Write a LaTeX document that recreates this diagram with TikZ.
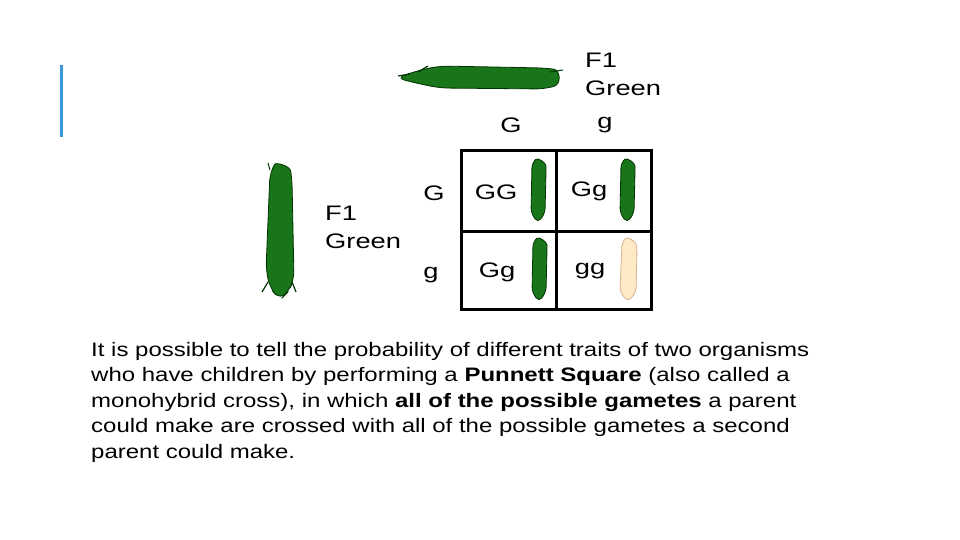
\documentclass[tikz,border=0pt]{standalone}
\usepackage{fontspec}
\setmainfont{Liberation Sans}
\newcommand{\wide}[1]{\scalebox{1.3}[1]{#1}}
\begin{document}
\begin{tikzpicture}[x=1pt,y=-1pt,
  lbl/.style={font=\fontsize{21}{24}\selectfont,inner sep=0pt},
  pod/.style={fill=green!40!black!90,draw=green!20!black,line width=0.8pt,rounded corners=6pt},
  ypod/.style={fill=yellow!25!orange!20,draw=brown!60,line width=0.8pt,rounded corners=6pt},
  grid/.style={line width=3pt}]
\useasboundingbox (0,0) rectangle (960,540);
\fill[white] (0,0) rectangle (960,540);
\fill[cyan!70!blue!80] (59.5,65) rectangle (62.5,137);
% top pod
\draw[pod,rounded corners=9pt] (420,70) -- (440,66) -- (545,68) .. controls (560,70) and (562,84) .. (545,89) -- (440,88) -- (420,84) -- (396,78) -- cycle;
\draw[green!20!black,line width=1.2pt] (418,72) -- (428,66);
\draw[green!20!black,line width=1.2pt] (410,74) -- (398,76);
\draw[green!20!black,line width=1pt] (550,72) -- (563,70);
% left pod
\draw[pod,rounded corners=9pt] (270,172) .. controls (276,162) and (290,166) .. (292,180) -- (294,280) -- (288,292) -- (280,300) -- (270,288) -- (266,270) -- cycle;
\draw[green!20!black,line width=1pt] (270,170) -- (268,163);
\draw[green!20!black,line width=1.2pt] (268,282) -- (262,292);
\draw[green!20!black,line width=1.2pt] (292,282) -- (296,292);
% small pods
\foreach \x/\y/\s in {538/157/pod,627/157/pod,539/236/pod}{
  \draw[\s,rounded corners=5pt] (\x-6,\y+6) .. controls (\x,\y) and (\x+8,\y+6) .. (\x+8,\y+14) -- (\x+7,\y+56) -- (\x,\y+66) -- (\x-7,\y+56) -- cycle;}
\draw[ypod,rounded corners=5pt] (622,242) .. controls (628,236) and (636,242) .. (637,250) -- (636,292) -- (628,302) -- (620,292) -- cycle;
% square
\node[draw,grid,minimum width=190,minimum height=158,inner sep=0pt] (sq) at (556,230) {};
\draw[grid] (556,151) -- (556,309);
\draw[grid] (461,231) -- (651,231);
% labels
\node[lbl,anchor=west] (f1a) at (585,60) {\wide{F1}};
\node[lbl,anchor=west] (gra) at (585,88) {\wide{Green}};
\node[lbl,anchor=west] (f1b) at (325,213) {\wide{F1}};
\node[lbl,anchor=west] (grb) at (325,241) {\wide{Green}};
\node[lbl] (cG) at (511,125) {\wide{G}};
\node[lbl] (cg) at (605,125) {\wide{g}};
\node[lbl] (rG) at (434,193) {\wide{G}};
\node[lbl] (rg) at (431,275) {\wide{g}};
\node[lbl] (GG) at (496,192) {\wide{GG}};
\node[lbl] (Gg1) at (589,191) {\wide{Gg}};
\node[lbl] (Gg2) at (497,272) {\wide{Gg}};
\node[lbl] (gg) at (590,271) {\wide{gg}};
\node[anchor=north west,inner sep=0pt] (para) at (91,338) {\scalebox{1.23}[1]{\fontsize{19.5}{25.6}\selectfont\begin{tabular}{@{}l@{}}It is possible to tell the probability of different traits of two organisms\\who have children by performing a \textbf{Punnett Square} (also called a\\monohybrid cross), in which \textbf{all of the possible gametes} a parent\\could make are crossed with all of the possible gametes a second\\parent could make.\end{tabular}}};
\end{tikzpicture}
\end{document}
